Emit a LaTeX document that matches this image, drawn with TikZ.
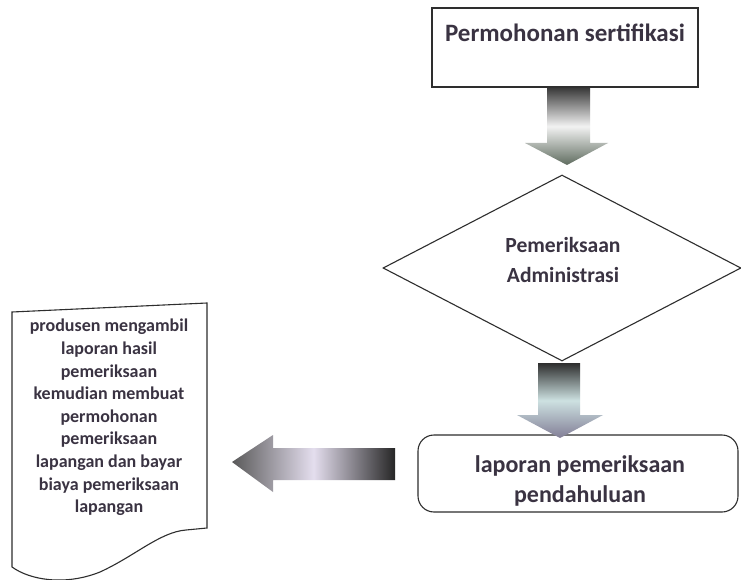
\documentclass[tikz,border=0pt]{standalone}
\usepackage{fontspec}
\setmainfont{Carlito}
\usetikzlibrary{shapes.geometric}
\definecolor{txt}{HTML}{3A3342}
\definecolor{ln}{HTML}{2E2E2E}
\tikzset{
  every node/.style={text=txt, font=\bfseries},
  outline/.style={draw=ln, line width=1.1pt},
  bigtext/.style={font=\fontsize{24}{30}\selectfont\bfseries, align=center},
  toptext/.style={font=\fontsize{25}{30}\selectfont\bfseries, align=center},
  dmtext/.style={font=\fontsize{21.6}{30}\selectfont\bfseries, align=center},
  doctext/.style={font=\fontsize{18}{22.6}\selectfont\bfseries, align=center},
}
\begin{document}
\begin{tikzpicture}[x=1pt,y=-1pt]
\useasboundingbox[fill=white] (0,0) rectangle (741,580);
% top box
\node[outline, rectangle, minimum width=266pt, minimum height=79pt, inner sep=0pt,
      label={[toptext, anchor=center, yshift=-25pt]north:Permohonan sertifikasi}] (perm) at (565,47.5) {};
% diamond
\node[outline, diamond, minimum width=358pt, minimum height=186pt, inner sep=0pt] (adm) at (562,268) {};
\node[dmtext] (admt) at (563,260) {Pemeriksaan\\Administrasi};
% rounded box
\node[outline, rectangle, rounded corners=16pt, minimum width=320pt, minimum height=77pt, inner sep=0pt] (lap) at (578,473.5) {};
\node[bigtext] (lapt) at (580,481) {laporan pemeriksaan\\pendahuluan};
% document shape
\coordinate (dtl) at (12,312);
\coordinate (dtr) at (207,303);
\coordinate (dbr) at (207,528);
\coordinate (dbl) at (12,567);
\draw[outline] (dtl) -- (dtr) -- (dbr) -- (186,530) .. controls (160,532) and (135,556) .. (100,572) .. controls (65,586) and (30,580) .. (dbl) -- cycle;
\node[doctext] (doc) at (109,417.5) {produsen mengambil\\laporan hasil\\pemeriksaan\\kemudian membuat\\permohonan\\pemeriksaan\\lapangan dan bayar\\biaya pemeriksaan\\lapangan};
% arrow 1
\shade[top color=black!78, bottom color={rgb,255:red,95;green,108;blue,95}, middle color=black!5]
  (perm.south -| 547,0) -- (547,143) -- (525,143) -- (567,165) -- (608,143) -- (590,143) -- (perm.south -| 590,0) -- cycle;
% arrow 2
\shade[top color=black!82, bottom color={rgb,255:red,130;green,126;blue,150}, middle color={rgb,255:red,205;green,225;blue,225}]
  (538,363) -- (538,415) -- (517,415) -- (560,438) -- (603,415) -- (580,415) -- (580,363) -- cycle;
% left arrow
\shade[right color=black!85, left color=black!65, middle color={rgb,255:red,228;green,222;blue,238}]
  (395,448) -- (273,448) -- (273,435) -- (232,462) -- (273,492) -- (273,480) -- (395,480) -- cycle;
\end{tikzpicture}
\end{document}
